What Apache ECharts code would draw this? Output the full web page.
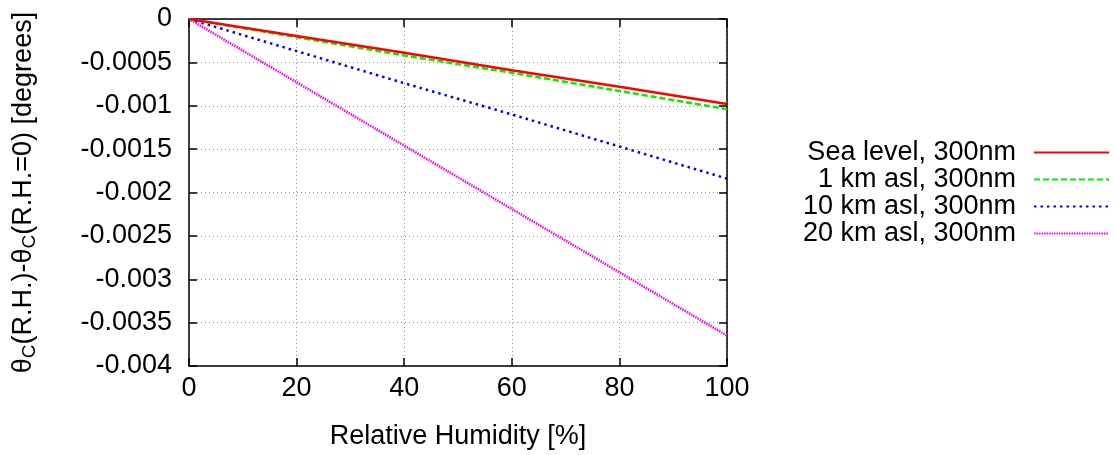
<!DOCTYPE html>
<html>
<head>
<meta charset="utf-8">
<script src="https://cdn.jsdelivr.net/npm/echarts@6/dist/echarts.min.js"></script>
<style>
  html, body { margin: 0; padding: 0; background: #fff; }
  #chart { width: 1115px; height: 455px; }
</style>
</head>
<body>
<div id="chart"></div>
<script>
// relative humidity [%]
var humidity = [0, 20, 40, 60, 80, 100];
// theta_C(R.H.) - theta_C(R.H.=0), degrees
var seaLevel = [0, -0.000196, -0.00039, -0.00059, -0.00078, -0.00098];
var km1 = [0, -0.00021, -0.00042, -0.00062, -0.00083, -0.00104];
var km10 = [0, -0.00037, -0.00074, -0.0011, -0.00147, -0.00184];
var km20 = [0, -0.00073, -0.00146, -0.00219, -0.00292, -0.00365];
var seriesNames = ["Sea level, 300nm", "1 km asl, 300nm", "10 km asl, 300nm", "20 km asl, 300nm"];

function pairs(ys) {
  var arr = [];
  for (var i = 0; i < humidity.length; i++) {
    arr.push([humidity[i], ys[i]]);
  }
  return arr;
}

var font = "Liberation Sans, Arial, sans-serif";
var fs = 27;
var gridLine = { show: true, lineStyle: { color: "#909090", type: [1, 3], width: 1 } };
var boxLine = { show: true, onZero: false, lineStyle: { color: "#000", width: 1.5 } };
var tick = { show: true, inside: true, length: 8, lineStyle: { color: "#000", width: 1.5 } };

var myChart = echarts.init(document.getElementById("chart"));
var option = {
  animation: false,
  grid: { left: 189, right: 388, top: 19, bottom: 88 },
  legend: {
    orient: "vertical",
    right: 0,
    top: 134,
    align: "right",
    itemWidth: 75,
    itemHeight: 10,
    itemGap: 0,
    data: seriesNames,
    itemStyle: { opacity: 0 },
    textStyle: {
      fontFamily: font,
      fontSize: fs,
      lineHeight: 27,
      color: "#000",
      width: 225,
      align: "right",
      padding: [0, 13, 0, 0]
    }
  },
  xAxis: [
    {
      type: "value",
      min: 0,
      max: 100,
      interval: 20,
      name: "Relative Humidity [%]",
      nameLocation: "middle",
      nameGap: 57,
      nameTextStyle: { fontFamily: font, fontSize: fs, color: "#000" },
      axisLine: boxLine,
      axisTick: tick,
      axisLabel: { fontFamily: font, fontSize: fs, color: "#000", margin: 9 },
      splitLine: gridLine
    },
    {
      type: "value",
      position: "top",
      min: 0,
      max: 100,
      interval: 20,
      axisLine: boxLine,
      axisTick: tick,
      axisLabel: { show: false },
      splitLine: { show: false }
    }
  ],
  yAxis: [
    {
      type: "value",
      min: -0.004,
      max: 0,
      interval: 0.0005,
      name: "{a|θ}{s|C}{a|(R.H.)-θ}{s|C}{a|(R.H.=0) [degrees]}",
      nameLocation: "middle",
      nameGap: 150,
      nameTextStyle: {
        fontFamily: font,
        fontSize: fs,
        color: "#000",
        rich: {
          a: { fontFamily: font, fontSize: fs, color: "#000" },
          s: { fontFamily: font, fontSize: 19, color: "#000", verticalAlign: "bottom", padding: [12, 0, 0, 0] }
        }
      },
      axisLine: boxLine,
      axisTick: tick,
      axisLabel: { fontFamily: font, fontSize: fs, color: "#000", margin: 17 },
      splitLine: gridLine
    },
    {
      type: "value",
      position: "right",
      min: -0.004,
      max: 0,
      interval: 0.0005,
      axisLine: boxLine,
      axisTick: tick,
      axisLabel: { show: false },
      splitLine: { show: false }
    }
  ],
  series: [
    {
      name: seriesNames[0],
      type: "line",
      symbol: "none",
      data: pairs(seaLevel),
      lineStyle: { color: "#ff0000", width: 2.5, type: "solid" },
      itemStyle: { color: "#ff0000" },
      z: 5
    },
    {
      name: seriesNames[1],
      type: "line",
      symbol: "none",
      data: pairs(km1),
      lineStyle: { color: "#00ee00", width: 2.5, type: [6, 3] },
      itemStyle: { color: "#00ee00" },
      z: 4
    },
    {
      name: seriesNames[2],
      type: "line",
      symbol: "none",
      data: pairs(km10),
      lineStyle: { color: "#0000ff", width: 2.5, type: [2.5, 4] },
      itemStyle: { color: "#0000ff" },
      z: 3
    },
    {
      name: seriesNames[3],
      type: "line",
      symbol: "none",
      data: pairs(km20),
      lineStyle: { color: "#ff00ff", width: 2.5, type: [1.5, 1] },
      itemStyle: { color: "#ff00ff" },
      z: 2
    }
  ]
};
myChart.setOption(option);
</script>
</body>
</html>
